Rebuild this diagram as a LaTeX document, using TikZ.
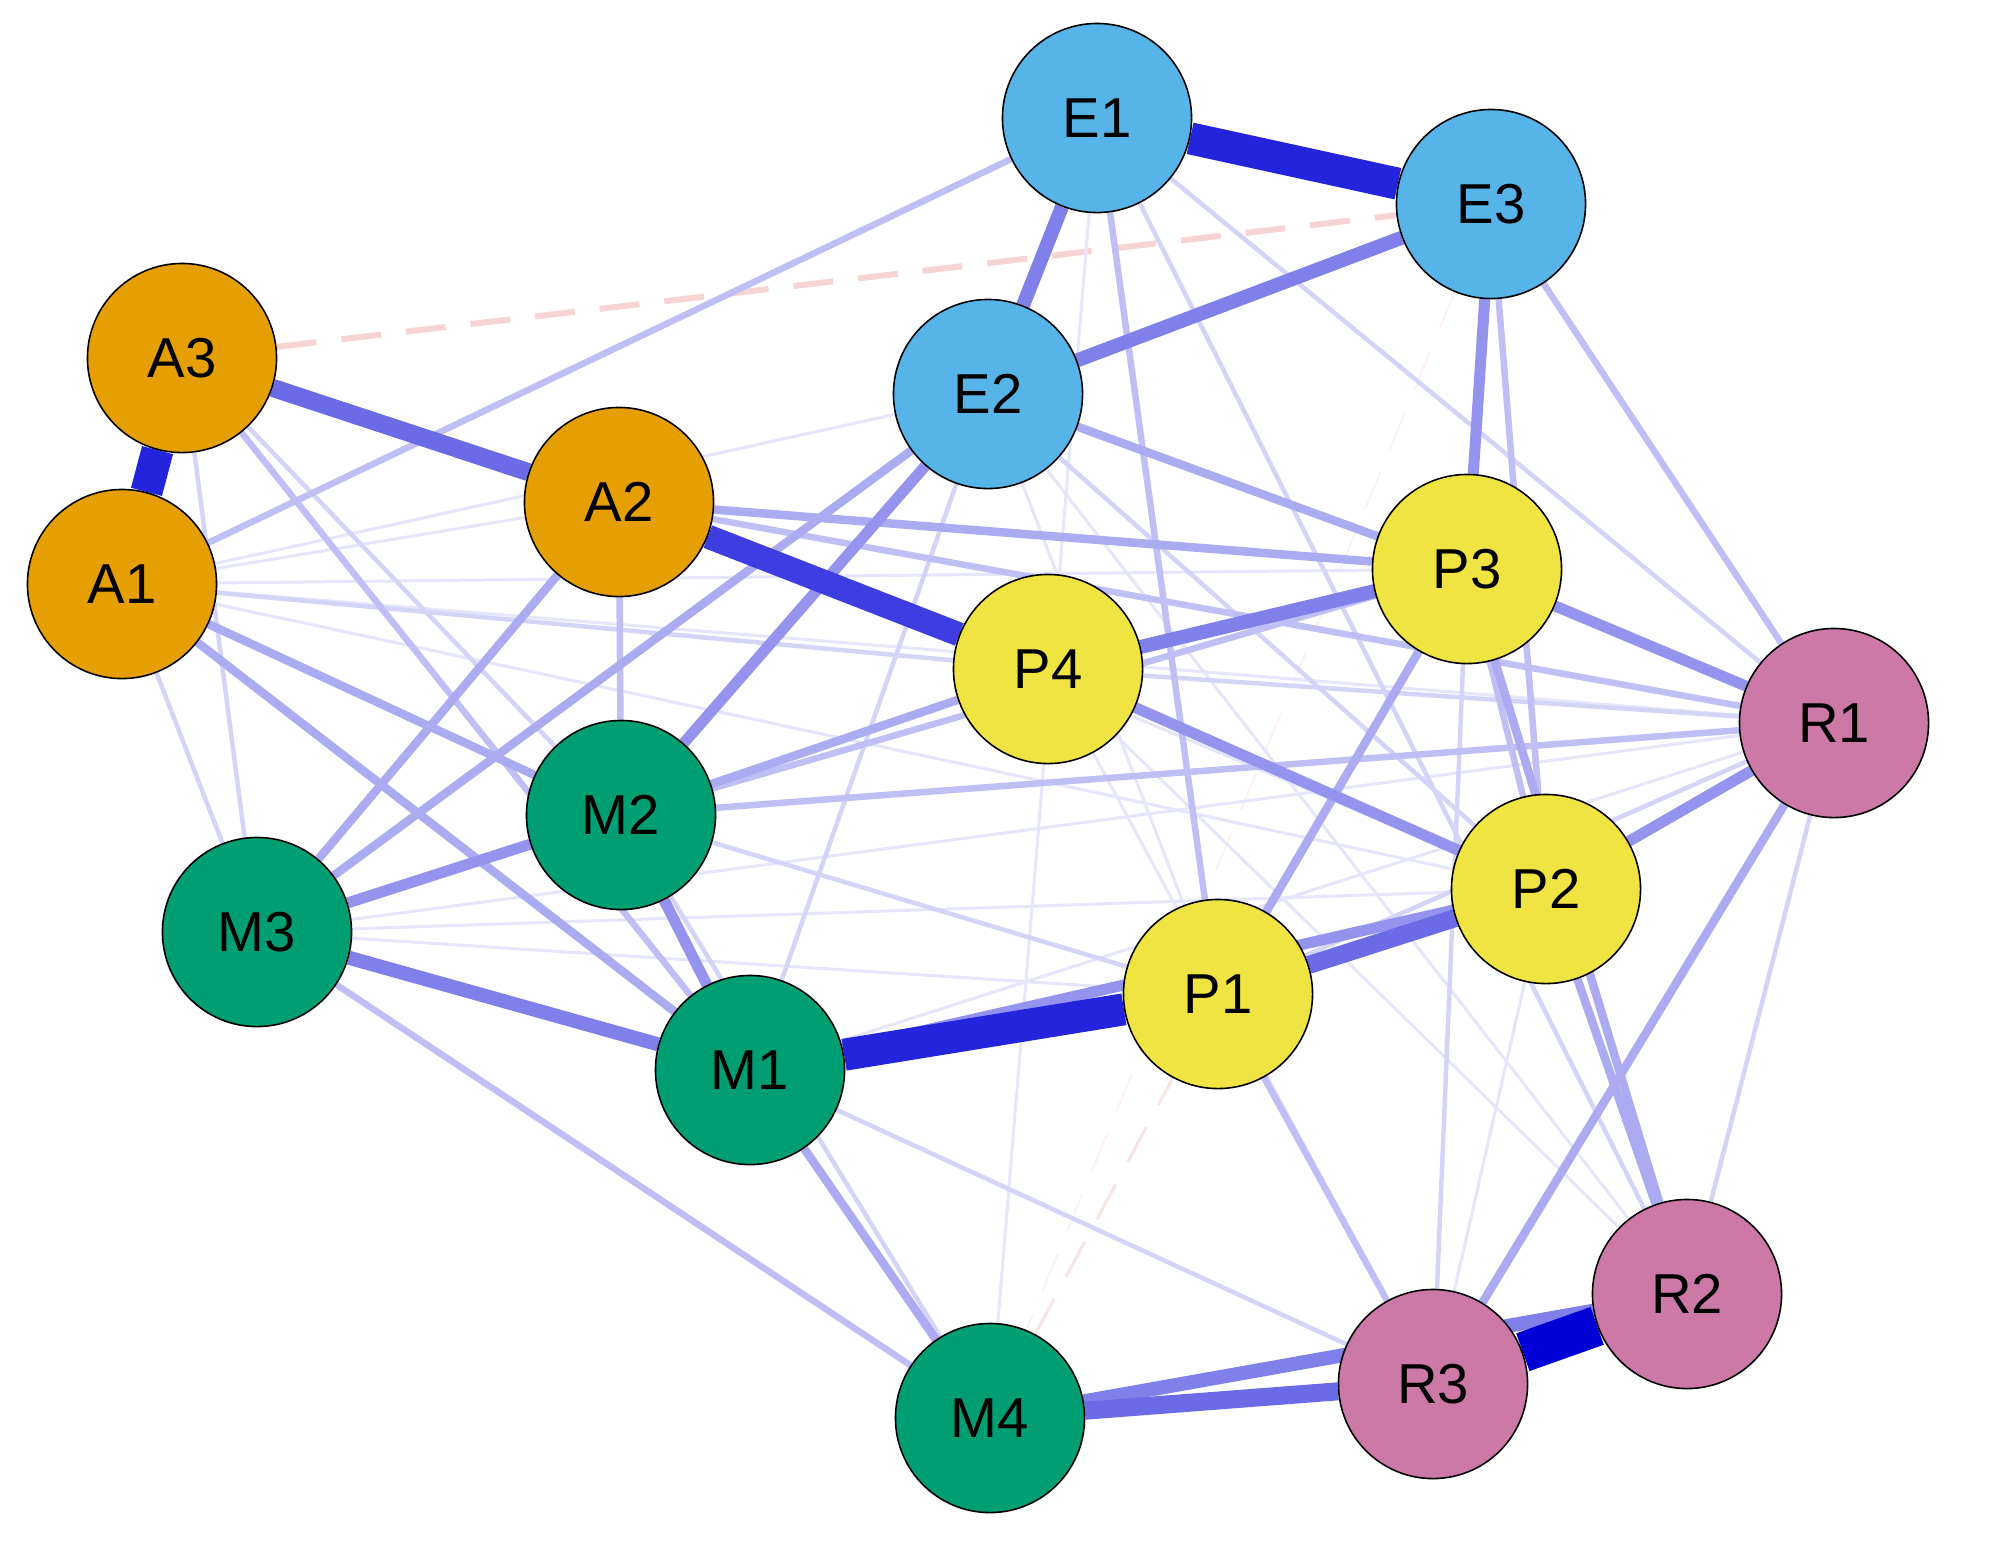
\documentclass[tikz,border=0pt]{standalone}
\usepackage{fontspec}
\setmainfont{Liberation Sans}
\usetikzlibrary{backgrounds}

\definecolor{qblue}{RGB}{0,0,215}
\definecolor{qred}{RGB}{225,80,80}
\definecolor{colA}{RGB}{230,159,0}
\definecolor{colE}{RGB}{86,180,233}
\definecolor{colP}{RGB}{240,228,66}
\definecolor{colM}{RGB}{0,158,115}
\definecolor{colR}{RGB}{204,121,167}

\begin{document}
\begin{tikzpicture}[x=0.01cm,y=-0.01cm]
  \tikzset{vertex/.style = {shape=circle,draw,line width=0.45pt,minimum size=1.89cm,inner sep=0pt,font=\fontsize{16}{19}\selectfont}}
  \tikzset{s1/.style = {draw=qblue!10,line width=0.03cm}}
  \tikzset{s2/.style = {draw=qblue!17,line width=0.045cm}}
  \tikzset{s3/.style = {draw=qblue!25,line width=0.065cm}}
  \tikzset{s4/.style = {draw=qblue!33,line width=0.085cm}}
  \tikzset{s5/.style = {draw=qblue!42,line width=0.11cm}}
  \tikzset{s6/.style = {draw=qblue!50,line width=0.14cm}}
  \tikzset{s7/.style = {draw=qblue!58,line width=0.18cm}}
  \tikzset{s8/.style = {draw=qblue!76,line width=0.24cm}}
  \tikzset{s9/.style = {draw=qblue!86,line width=0.32cm}}
  \tikzset{s10/.style = {draw=qblue!100,line width=0.40cm}}
  \tikzset{neg/.style = {dash pattern=on 0.4cm off 0.25cm}}

  \useasboundingbox (0,0) rectangle (2000,1547);

  % nodes
  \node[vertex,fill=colE] (E1) at (1097,118) {E1};
  \node[vertex,fill=colE] (E3) at (1491,204) {E3};
  \node[vertex,fill=colE] (E2) at (988,394) {E2};
  \node[vertex,fill=colA] (A3) at (182,358) {A3};
  \node[vertex,fill=colA] (A2) at (619,502) {A2};
  \node[vertex,fill=colA] (A1) at (122,584) {A1};
  \node[vertex,fill=colP] (P3) at (1467,569) {P3};
  \node[vertex,fill=colP] (P4) at (1048,669) {P4};
  \node[vertex,fill=colP] (P2) at (1546,889) {P2};
  \node[vertex,fill=colP] (P1) at (1218,994) {P1};
  \node[vertex,fill=colR] (R1) at (1834,723) {R1};
  \node[vertex,fill=colR] (R2) at (1687,1294) {R2};
  \node[vertex,fill=colR] (R3) at (1433,1384) {R3};
  \node[vertex,fill=colM] (M2) at (621,815) {M2};
  \node[vertex,fill=colM] (M3) at (257,932) {M3};
  \node[vertex,fill=colM] (M1) at (750,1070) {M1};
  \node[vertex,fill=colM] (M4) at (990,1418) {M4};

  % edges, weakest first
  \begin{scope}[on background layer]
    \path[neg,draw=qred!8,line width=0.02cm] (E3) edge (M4);
    \path[neg,draw=qred!16,line width=0.03cm] (M4) edge (P1);
    \path[neg,draw=qred!25,line width=0.06cm] (A3) edge (E3);
    \foreach \from/\to in {A1/A2, A1/E2, A1/P3, A1/R1, A1/P2, M3/P4, M3/P1, M3/P2, M3/R1, E2/P1, E2/R2, A2/P2, P4/R2, P4/R3, P2/R3, E1/M4, M1/R1}
      \path[s1] (\from) edge (\to);
    \foreach \from/\to in {A3/M3, A1/M3, A3/M2, E2/P2, E2/M1, M2/P1, M2/M4, M1/R3, R1/R2, P1/R1, P4/R1, E1/R1, E1/R2, P3/R3, A1/P4}
      \path[s2] (\from) edge (\to);
    \foreach \from/\to in {A1/E1, A2/R1, M2/R1, M3/M4, E3/R1, E3/P2, P1/R3, A3/M1, E1/P1, P3/P2, A2/M2, M2/P3}
      \path[s3] (\from) edge (\to);
    \foreach \from/\to in {M3/E2, M3/A2, M2/P4, A1/M2, A1/M1, P1/P3, E2/P3, A2/P3, R1/R3, P3/R2, P2/R2, M1/M4}
      \path[s4] (\from) edge (\to);
    \foreach \from/\to in {P4/P2, M2/M1, M3/M2, E3/P3, M1/P2, M2/E2, P3/R1, P2/R1}
      \path[s5] (\from) edge (\to);
    \foreach \from/\to in {E1/E2, E3/E2, M3/M1, P3/P4, M4/R2}
      \path[s6] (\from) edge (\to);
    \foreach \from/\to in {A3/A2, M4/R3, P1/P2}
      \path[s7] (\from) edge (\to);
    \path[s8] (A2) edge (P4);
    \foreach \from/\to in {E1/E3, A3/A1, M1/P1}
      \path[s9] (\from) edge (\to);
    \path[s10] (R3) edge (R2);
  \end{scope}
\end{tikzpicture}
\end{document}
